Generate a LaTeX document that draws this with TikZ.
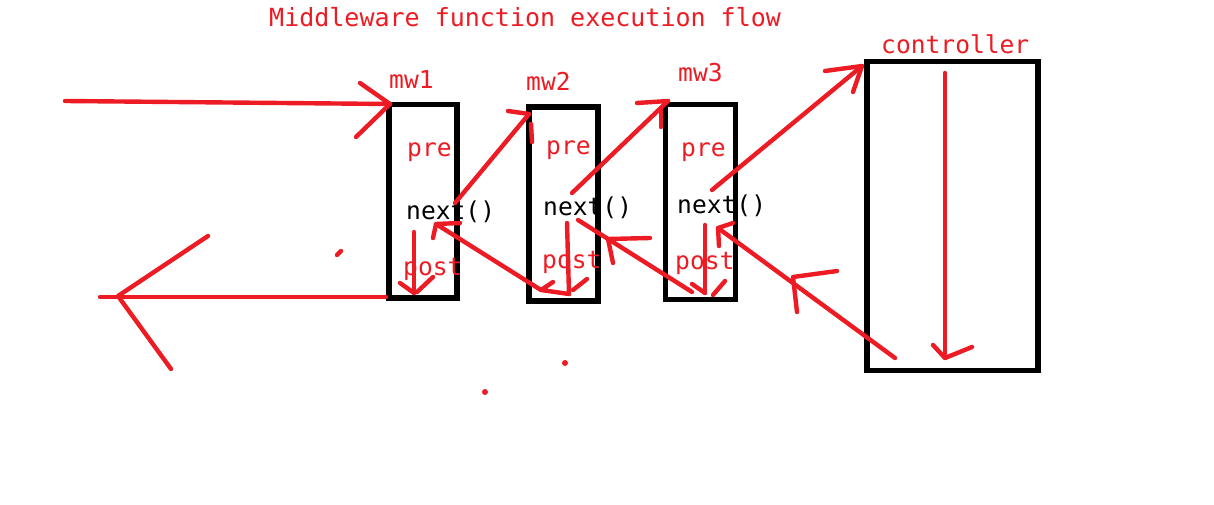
\documentclass[tikz,border=0pt]{standalone}
\usepackage{fontspec}
\newfontfamily\paintmono{DejaVu Sans Mono}
\definecolor{pred}{RGB}{237,28,36}
\begin{document}
\begin{tikzpicture}[x=1pt,y=-1pt,
  box/.style={draw=black, line width=5.5pt, inner sep=0pt, rectangle},
  stroke/.style={draw=pred, line width=4.4pt, line cap=round, line join=round},
  lbl/.style={text=pred, font=\paintmono\fontsize{24.6}{28}\selectfont, inner sep=0pt, anchor=base west},
  nxt/.style={lbl, text=black},
  ttl/.style={lbl, font=\paintmono\fontsize{25}{28}\selectfont},
  dotmark/.style={fill=pred, circle, inner sep=0pt, minimum size=6pt}]
\fill[white] (0,0) rectangle (1214,505);
\useasboundingbox (0,0) rectangle (1214,505);

% boxes
\node[box, minimum width=68pt, minimum height=193.5pt] (mw1) at (423,201.25) {};
\node[box, minimum width=69pt, minimum height=194pt] (mw2) at (563.5,204) {};
\node[box, minimum width=70pt, minimum height=195pt] (mw3) at (700.5,202) {};
\node[box, minimum width=171pt, minimum height=309pt] (ctrl) at (952.5,216) {};

% labels
\node[ttl] (title) at (269,27) {Middleware function execution flow};
\node[lbl] (l1) at (389,89) {mw1};
\node[lbl] (l2) at (526,91) {mw2};
\node[lbl] (l3) at (678,82) {mw3};
\node[lbl] (lc) at (881,54) {controller};
\node[lbl] (pre1) at (407,157) {pre};
\node[lbl] (pre2) at (546,155) {pre};
\node[lbl] (pre3) at (681,157) {pre};
\node[nxt] (nx1) at (406,219) {next()};
\node[nxt] (nx2) at (543,215) {next()};
\node[nxt] (nx3) at (677,213) {next()};
\node[lbl] (po1) at (403,275) {post};
\node[lbl] (po2) at (542,268) {post};
\node[lbl] (po3) at (675,269) {post};

% named points of the red strokes
\coordinate (inS) at (65,101);   \coordinate (inT) at (390,104);
\coordinate (inH1) at (360,83);  \coordinate (inH2) at (356,137);
\coordinate (outS) at (386,297); \coordinate (outE) at (100,297);
\coordinate (outT) at (118,296); \coordinate (outH1) at (208,236); \coordinate (outH2) at (171,369);
\coordinate (d1S) at (414,232); \coordinate (d1T) at (414,293);
\coordinate (d1H1) at (400,283); \coordinate (d1H2a) at (433,277); \coordinate (d1H2b) at (417,292);
\coordinate (a12S) at (455,203); \coordinate (a12T) at (529,114);
\coordinate (a12H1) at (508,111); \coordinate (a12Ha) at (531,124); \coordinate (a12Hb) at (532,142);
\coordinate (b21T) at (436,224); \coordinate (b21S) at (541,290);
\coordinate (b21H1) at (460,223); \coordinate (b21H2) at (433,238);
\coordinate (b21H3) at (553,282); \coordinate (b21H4) at (569,294);
\coordinate (d2S) at (567,223); \coordinate (d2T) at (569,294);
\coordinate (d2Ha) at (573,290); \coordinate (d2Hb) at (587,279);
\coordinate (a23S) at (572,193); \coordinate (a23T) at (668,101);
\coordinate (a23H1) at (637,103); \coordinate (a23Ha) at (661,108); \coordinate (a23Hb) at (661,127);
\coordinate (b32S) at (692,292); \coordinate (b32E) at (578,220);
\coordinate (b32T) at (608,239); \coordinate (b32H1) at (650,238); \coordinate (b32H2) at (613,263);
\coordinate (d3S) at (705,225); \coordinate (d3T) at (705,293);
\coordinate (d3H1) at (692,284); \coordinate (d3Ha) at (713,295); \coordinate (d3Hb) at (725,281);
\coordinate (a3cS) at (712,190); \coordinate (a3cT) at (862,66);
\coordinate (a3cH1) at (825,71); \coordinate (a3cH2) at (853,92);
\coordinate (bc3S) at (895,358); \coordinate (bc3T) at (718,228);
\coordinate (bc3H1) at (733,223); \coordinate (bc3H2) at (719,246);
\coordinate (bc3M) at (793,277); \coordinate (bc3M1) at (837,271); \coordinate (bc3M2) at (797,312);
\coordinate (dcS) at (945,73); \coordinate (dcT) at (945,358);
\coordinate (dcH1) at (933,345); \coordinate (dcH2) at (972,347);
\coordinate (m1a) at (337,255); \coordinate (m1b) at (341,251);

% incoming request
\draw[stroke] (inS) -- (inT);
\draw[stroke] (inH1) -- (inT) -- (inH2);
% outgoing response
\draw[stroke] (outS) -- (outE);
\draw[stroke] (outH1) -- (outT) -- (outH2);
% mw1 down
\draw[stroke] (d1S) -- (d1T);
\draw[stroke] (d1H1) -- (d1T);
\draw[stroke] (d1H2a) -- (d1H2b);
% mw1 -> mw2
\draw[stroke] (a12S) -- (a12T);
\draw[stroke] (a12H1) -- (a12T);
\draw[stroke] (a12Ha) -- (a12Hb);
% mw2 post <-> mw1 next
\draw[stroke] (b21S) -- (b21T);
\draw[stroke] (b21H1) -- (b21T) -- (b21H2);
\draw[stroke] (b21H3) -- (b21S) -- (b21H4);
% mw2 down
\draw[stroke] (d2S) -- (d2T);
\draw[stroke] (d2Ha) -- (d2Hb);
% mw2 -> mw3
\draw[stroke] (a23S) -- (a23T);
\draw[stroke] (a23H1) -- (a23T);
\draw[stroke] (a23Ha) -- (a23Hb);
% mw3 post -> mw2 next
\draw[stroke] (b32S) -- (b32E);
\draw[stroke] (b32H1) -- (b32T) -- (b32H2);
% mw3 down
\draw[stroke] (d3S) -- (d3T);
\draw[stroke] (d3H1) -- (d3T);
\draw[stroke] (d3Ha) -- (d3Hb);
% mw3 -> controller
\draw[stroke] (a3cS) -- (a3cT);
\draw[stroke] (a3cH1) -- (a3cT) -- (a3cH2);
% controller -> mw3 next
\draw[stroke] (bc3S) -- (bc3T);
\draw[stroke] (bc3H1) -- (bc3T) -- (bc3H2);
\draw[stroke] (bc3M1) -- (bc3M) -- (bc3M2);
% controller down
\draw[stroke] (dcS) -- (dcT);
\draw[stroke] (dcH1) -- (dcT) -- (dcH2);
% stray marks
\draw[stroke] (m1a) -- (m1b);
\node[dotmark] (dotA) at (565,363) {};
\node[dotmark] (dotB) at (485,392) {};
\end{tikzpicture}
\end{document}
